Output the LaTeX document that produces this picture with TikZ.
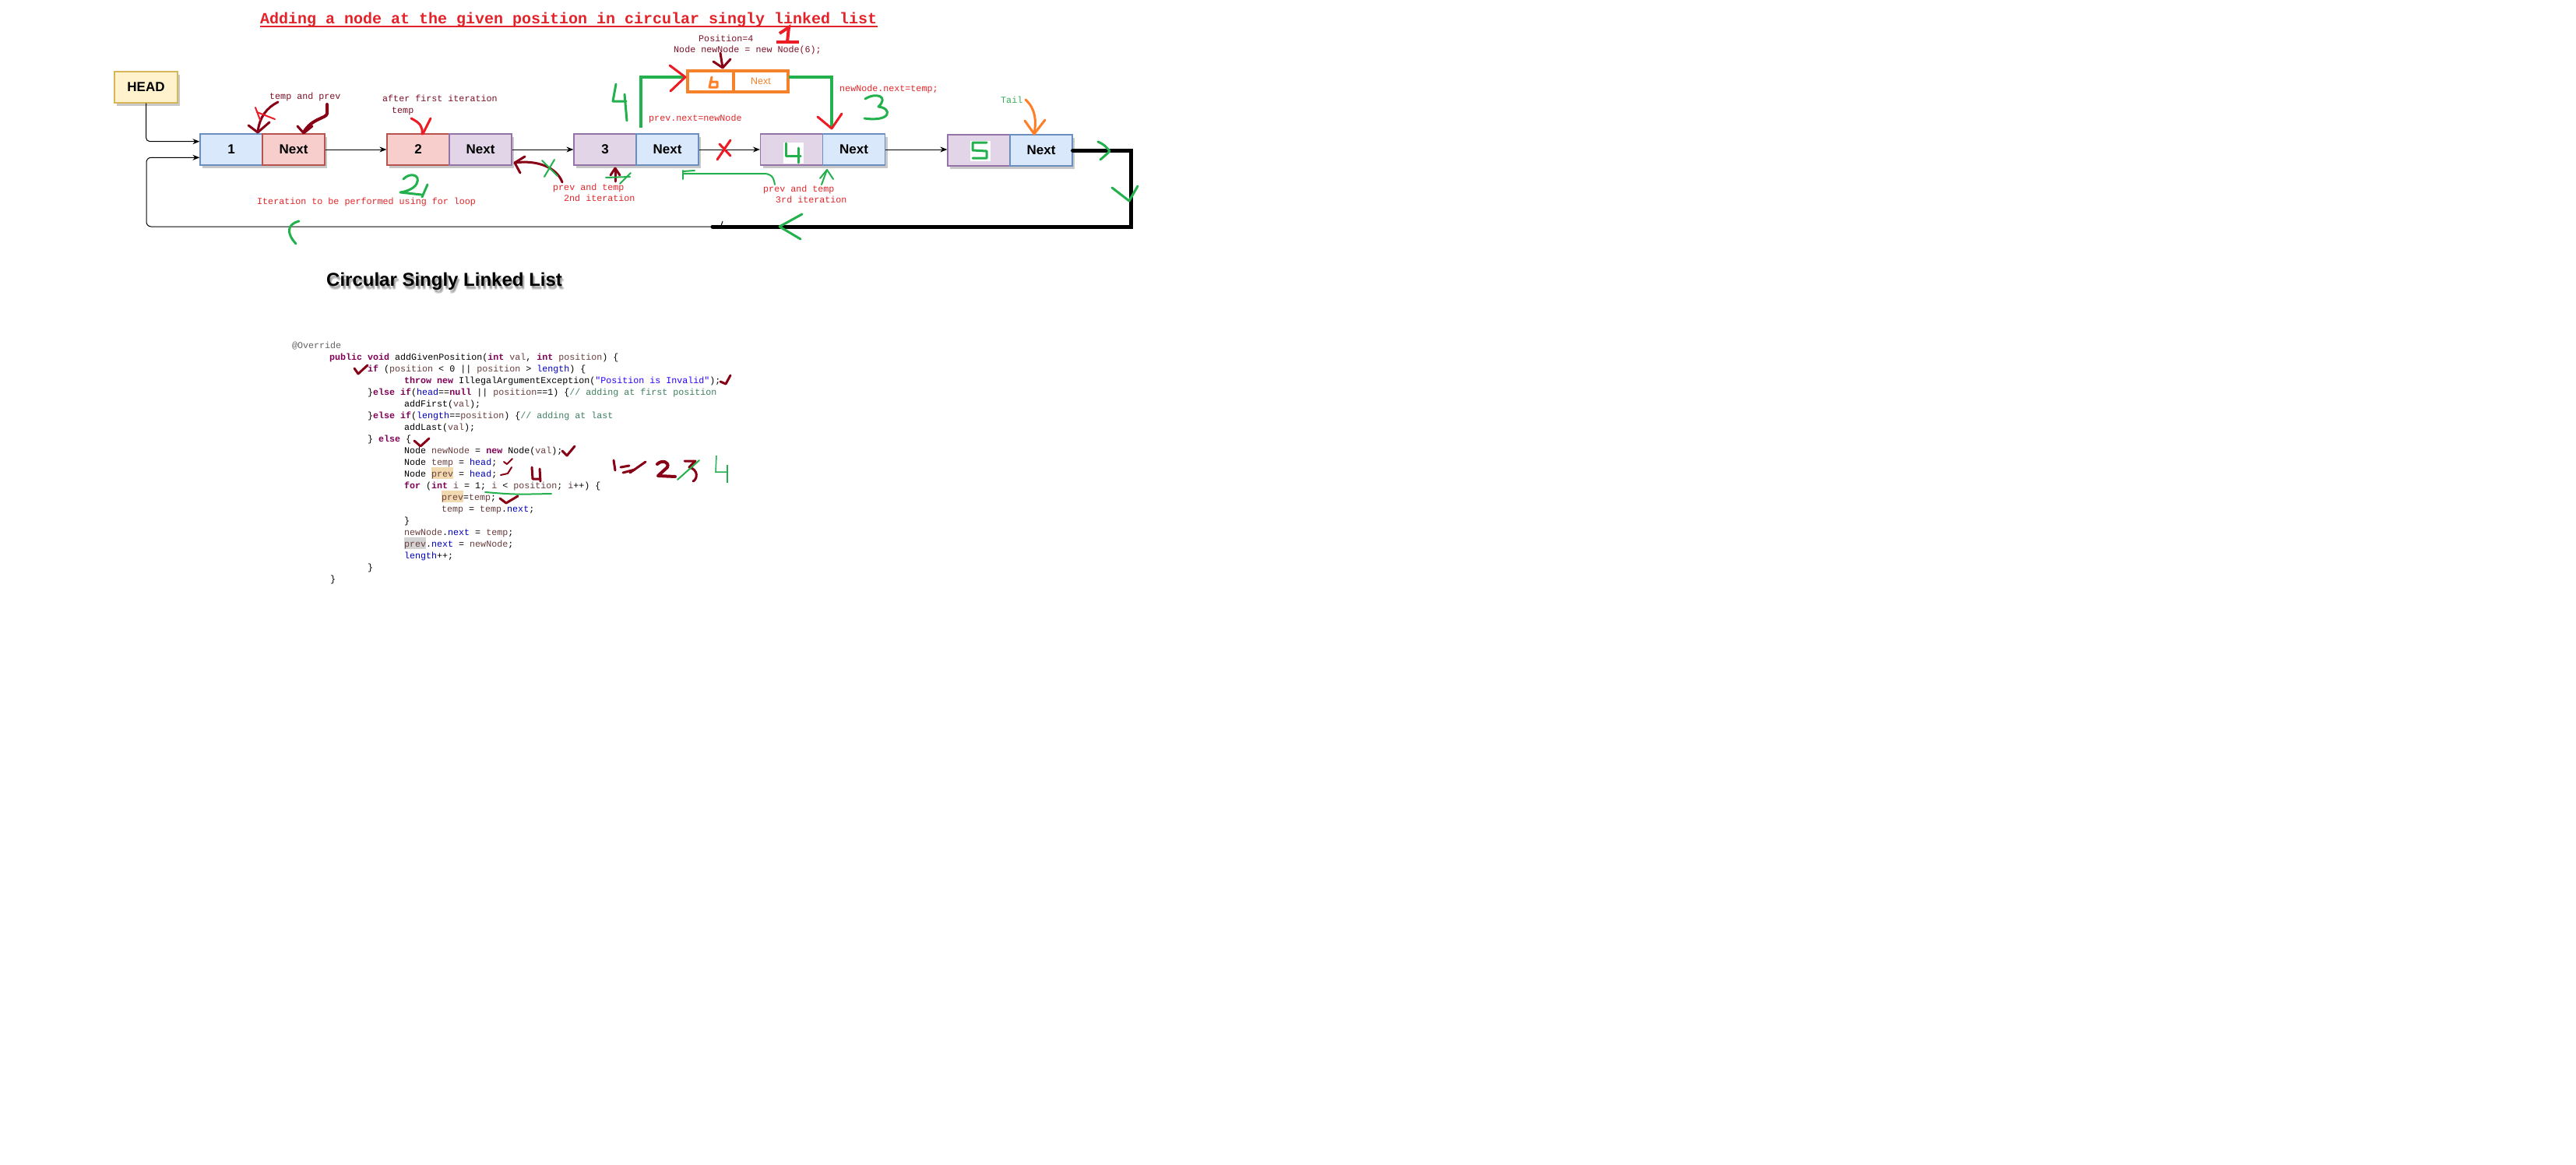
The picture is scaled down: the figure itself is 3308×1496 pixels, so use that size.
\documentclass[tikz,border=0pt]{standalone}
\usepackage{fontspec}
\setmainfont{Liberation Sans}
\setsansfont{Liberation Sans}
\setmonofont{Liberation Mono}
\usetikzlibrary{arrows.meta,shadows,calc}

% list cell colours
\definecolor{bluefill}{HTML}{DAE8FC}\definecolor{bluedraw}{HTML}{6C8EBF}
\definecolor{redfill}{HTML}{F8CECC}\definecolor{reddraw}{HTML}{B85450}
\definecolor{purfill}{HTML}{E1D5E7}\definecolor{purdraw}{HTML}{9673A6}
\definecolor{yelfill}{HTML}{FFF2CC}\definecolor{yeldraw}{HTML}{D6B656}
\definecolor{nodeorange}{HTML}{F5822A}
% pen colours
\definecolor{pgreen}{HTML}{22B14C}
\definecolor{pred}{HTML}{ED1C24}
\definecolor{pmaroon}{HTML}{880015}
\definecolor{porange}{HTML}{FF7F27}
% label colours
\definecolor{titlered}{HTML}{E3222A}
\definecolor{txtred}{HTML}{E5262A}
\definecolor{txtmaroon}{HTML}{7D1128}
\definecolor{tailgreen}{HTML}{3CAA5A}
% java syntax colours
\definecolor{jkwc}{HTML}{7F0055}
\definecolor{jfldc}{HTML}{0000C0}
\definecolor{jvarc}{HTML}{6A3E3E}
\definecolor{jstrc}{HTML}{2A00FF}
\definecolor{jcomc}{HTML}{3F7F5F}
\definecolor{jannc}{HTML}{646464}
\definecolor{hltan}{HTML}{F2DAB0}
\definecolor{hlgray}{HTML}{D4D4D4}

\newcommand\jkw[1]{\textcolor{jkwc}{\bfseries #1}}
\newcommand\jfld[1]{\textcolor{jfldc}{#1}}
\newcommand\jvar[1]{\textcolor{jvarc}{#1}}
\newcommand\jstr[1]{\textcolor{jstrc}{#1}}
\newcommand\jcom[1]{\textcolor{jcomc}{#1}}

\tikzset{
  listcell/.style={draw, line width=1.2pt, minimum width=80pt, minimum height=40pt,
    inner sep=0pt, font=\fontsize{17}{20}\selectfont\bfseries\sffamily,
    drop shadow={shadow xshift=3pt, shadow yshift=-4pt, opacity=.3, fill=black!70}},
  bluecell/.style={listcell, fill=bluefill, draw=bluedraw},
  redcell/.style={listcell, fill=redfill, draw=reddraw},
  purcell/.style={listcell, fill=purfill, draw=purdraw},
  yelcell/.style={listcell, fill=yelfill, draw=yeldraw},
  orangecell/.style={draw=nodeorange, line width=4pt, fill=white, minimum height=27pt,
    inner sep=0pt, text=nodeorange, font=\fontsize{12.5}{14}\selectfont\sffamily},
  conn/.style={draw=black, line width=1pt, -{Stealth[length=9pt,width=7pt]}},
  pen/.style={line width=3pt, line cap=round, line join=round},
  thinpen/.style={line width=2pt, line cap=round, line join=round},
  anno/.style={anchor=base west, inner sep=0pt, font=\fontsize{11.7}{14}\selectfont\ttfamily},
  code/.style={anchor=base west, inner sep=0pt, font=\fontsize{11.67}{14}\selectfont\ttfamily},
}

\begin{document}
\begin{tikzpicture}[x=1pt,y=-1pt]
\fill[white] (0,0) rectangle (3308,1496);
\useasboundingbox (0,0) rectangle (3308,1496);

% ---------- title ----------
\node[anchor=base west, inner sep=0pt, text=titlered,
      font=\fontsize{20}{24}\selectfont\ttfamily\bfseries] (title) at (334,31)
  {Adding a node at the given position in circular singly linked list};
\draw[titlered, line width=2pt] ($(title.base west)+(0,3)$) -- ($(title.base east)+(0,3)$);

% ---------- list nodes ----------
\node[yelcell, minimum width=81pt] (head) at (187.5,112) {HEAD};

\node[bluecell] (n1v) at (297,192) {1};
\node[redcell]  (n1n) at (377,192) {Next};
\node[redcell]  (n2v) at (537,192) {2};
\node[purcell]  (n2n) at (617,192) {Next};
\node[purcell]  (n3v) at (777,192) {3};
\node[bluecell] (n3n) at (857,192) {Next};
\node[purcell]  (n4v) at (1016.5,192) {};
\node[bluecell] (n4n) at (1096.5,192) {Next};
\node[purcell]  (n5v) at (1257,193) {};
\node[bluecell] (n5n) at (1337,193) {Next};

% new node being inserted
\node[orangecell, minimum width=59pt] (o6v) at (912.5,104.5) {};
\node[orangecell, minimum width=70pt] (o6n) at (977,104.5) {Next};

% ---------- links ----------
\draw[conn, rounded corners=5pt] (head.south) |- ($(n1v.north west)!0.25!(n1v.south west)$);
\draw[conn] (n1n.east) -- (n2v.west);
\draw[conn] (n2n.east) -- (n3v.west);
\draw[conn] (n3n.east) -- (n4v.west);
\draw[conn] (n4n.east) -- (n4n.east -| n5v.west);

% tail back to head
\coordinate (loopNE) at (1452,193);
\coordinate (loopSE) at (1452,291);
\coordinate (loopJ)  at (915,291);
\coordinate (loopSW) at (188,291);
\draw[line width=5pt, line cap=round] (n5n.east) -- (loopNE) -- (loopSE) -- (loopJ);
\draw[conn, rounded corners=6pt] (loopJ) -- (loopSW) |- ($(n1v.north west)!0.75!(n1v.south west)$);
\draw[line width=1pt] (928,284) -- (926,290);

% ---------- labels ----------
\node[anno, text=txtmaroon] (lbtp) at (346,127) {temp and prev};
\node[anno, text=txtmaroon] (lbaf) at (491,130) {after first iteration};
\node[anno, text=txtmaroon] (lbtm) at (503,145) {temp};
\node[anno, text=txtred] (lbit) at (330,262) {Iteration to be performed using for loop};
\node[anno, text=txtmaroon] (lbps) at (897,53) {Position=4};
\node[anno, text=txtmaroon] (lbnn) at (865,67) {Node newNode = new Node(6);};
\node[anno, text=txtred] (lbpn) at (833,155) {prev.next=newNode};
\node[anno, text=txtred] (lbnt) at (1078,117) {newNode.next=temp;};
\node[anno, text=tailgreen] (lbtl) at (1285,132) {Tail};
\node[anno, text=txtred] (lbp2) at (710,244) {prev and temp};
\node[anno, text=txtred] (lbi2) at (724,258) {2nd iteration};
\node[anno, text=txtred] (lbp3) at (980,246) {prev and temp};
\node[anno, text=txtred] (lbi3) at (996,260) {3rd iteration};

% ---------- pen marks on the list ----------
% prev.next = newNode
\draw[pgreen, line width=4.5pt] (823,164) -- (823,99) -- (879,99);
\draw[pred, pen] (860,84) -- (880,99) -- (861,117);
% newNode.next = temp
\draw[pgreen, line width=4.5pt] (1013,99) -- (1068,99) -- (1068,163);
\draw[pred, pen] (1050,150) -- (1068,165) -- (1081,146);
% step numbers
\draw[pgreen, pen] (791,108) -- (787,130) -- (804,130);
\draw[pgreen, pen] (802,121) -- (805,155);
\draw[pgreen, pen] (1111,127) .. controls (1125,118) and (1142,124) .. (1128,137)
                   .. controls (1146,139) and (1145,157) .. (1110,152);
\draw[pred, line width=4pt] (1001,43) -- (1013,35) -- (1011,54);
\draw[pred, line width=4pt] (997,54) -- (1026,54);
\draw[pgreen, pen] (518,230) .. controls (526,221) and (541,224) .. (535,236)
                   .. controls (532,242) and (522,246) .. (514,247) -- (541,250);
\draw[pgreen, pen] (549,237) -- (542,253);
% newNode pointer and value
\draw[pmaroon, pen] (925,68) -- (928,87);
\draw[pmaroon, pen] (916,79) -- (928,87) -- (938,76);
\draw[porange, pen] (914,99) -- (911,112) -- (921,112) -- (921,105) -- (912,105);
% broken link
\draw[pred, pen] (938,180) -- (921,205);
\draw[pred, pen] (924,185) -- (938,200);
% values 4 and 5
\fill[white] (1006,183) rectangle (1032,210);
\draw[pgreen, pen] (1009,184) -- (1009,200) -- (1028,200);
\draw[pgreen, pen] (1025,190) -- (1025,209);
\fill[white] (1246,181) rectangle (1272,207);
\draw[pgreen, pen] (1267,183) -- (1249,183) -- (1249,193) -- (1267,194) -- (1267,203) -- (1249,203);
% tail pointer
\draw[porange, pen] (1317,128) .. controls (1330,140) and (1331,155) .. (1328,172);
\draw[porange, pen] (1316,155) -- (1328,172) -- (1342,154);
% direction marks on the loop
\draw[pgreen, pen] (1410,182) .. controls (1418,186) .. (1425,194) .. controls (1420,199) .. (1413,205);
\draw[pgreen, pen] (1428,241) -- (1450,258) -- (1461,239);
\draw[pgreen, pen] (1030,275) -- (1001,291) -- (1028,307);
\draw[pgreen, pen] (384,284) .. controls (368,288) and (368,300) .. (380,313);
% temp and prev at node 1
\draw[pmaroon, pen] (357,131) .. controls (343,138) and (333,150) .. (331,170);
\draw[pmaroon, pen] (319,161) -- (331,170) -- (346,157);
\draw[pred, thinpen] (328,138) -- (334,154);
\draw[pred, thinpen] (330,144) -- (353,153);
\draw[pmaroon, line width=4pt, line cap=round, line join=round]
  (420,134) -- (420,146) .. controls (419,152) and (400,152) .. (390,170);
\draw[pmaroon, pen] (382,162) -- (390,171) -- (401,162);
% temp after first iteration
\draw[pred, pen] (528,152) .. controls (540,158) and (543,163) .. (542,172);
\draw[pred, pen] (553,152) -- (543,172);
% second iteration
\draw[pmaroon, pen] (722,234) .. controls (715,215) and (690,205) .. (661,209);
\draw[pmaroon, pen] (674,201) -- (661,209) -- (668,222);
\draw[pgreen, thinpen] (696,206) -- (716,226);
\draw[pgreen, thinpen] (712,205) -- (699,227);
\draw[pmaroon, pen] (790,233) -- (790,217);
\draw[pmaroon, pen] (784,225) -- (790,216) -- (796,225);
\draw[pgreen, thinpen] (778,228) -- (809,227);
\draw[pgreen, thinpen] (796,236) -- (810,222);
% third iteration
\draw[pgreen, thinpen] (995,237) .. controls (993,226) and (990,223) .. (980,223) -- (877,223);
\draw[pgreen, thinpen] (877,219) -- (877,230);
\draw[pgreen, thinpen] (877,220) -- (892,219);
\draw[pgreen, thinpen] (1055,237) -- (1062,218);
\draw[pgreen, thinpen] (1053,229) -- (1062,218) -- (1070,230);

% ---------- caption ----------
\foreach \dx/\dy in {1/2,2/3,3/4,2/5}
  \node[anchor=base west, inner sep=0pt, text=black, opacity=.12,
        font=\fontsize{24}{28}\selectfont\bfseries\sffamily] at (419+\dx,367+\dy)
    {Circular Singly Linked List};
\node[anchor=base west, inner sep=0pt, font=\fontsize{24}{28}\selectfont\bfseries\sffamily]
  (caption) at (419,367) {Circular Singly Linked List};

% ---------- code ----------
\fill[hltan] (554,600) rectangle (582,615);
\fill[hltan] (567,630) rectangle (595,645);
\fill[hlgray] (519,690) rectangle (547,705);

\node[code, text=jannc] (c01) at (375,447) {@Override};
\node[code] (c02) at (423,462) {\jkw{public} \jkw{void} addGivenPosition(\jkw{int} \jvar{val}, \jkw{int} \jvar{position}) \{};
\node[code] (c03) at (472,477) {\jkw{if} (\jvar{position} < 0 || \jvar{position} > \jfld{length}) \{};
\node[code] (c04) at (519,492) {\jkw{throw} \jkw{new} IllegalArgumentException(\jstr{"Position is Invalid"});};
\node[code] (c05) at (472,507) {\}\jkw{else} \jkw{if}(\jfld{head}==\jkw{null} || \jvar{position}==1) \{\jcom{// adding at first position}};
\node[code] (c06) at (519,522) {addFirst(\jvar{val});};
\node[code] (c07) at (472,537) {\}\jkw{else} \jkw{if}(\jfld{length}==\jvar{position}) \{\jcom{// adding at last}};
\node[code] (c08) at (519,552) {addLast(\jvar{val});};
\node[code] (c09) at (472,567) {\} \jkw{else} \{};
\node[code] (c10) at (519,582) {Node \jvar{newNode} = \jkw{new} Node(\jvar{val});};
\node[code] (c11) at (519,597) {Node \jvar{temp} = \jfld{head};};
\node[code] (c12) at (519,612) {Node \jvar{prev} = \jfld{head};};
\node[code] (c13) at (519,627) {\jkw{for} (\jkw{int} \jvar{i} = 1; \jvar{i} < \jvar{position}; \jvar{i}++) \{};
\node[code] (c14) at (567,642) {\jvar{prev}=\jvar{temp};};
\node[code] (c15) at (567,657) {\jvar{temp} = \jvar{temp}.\jfld{next};};
\node[code] (c16) at (519,672) {\}};
\node[code] (c17) at (519,687) {\jvar{newNode}.\jfld{next} = \jvar{temp};};
\node[code] (c18) at (519,702) {\jvar{prev}.\jfld{next} = \jvar{newNode};};
\node[code] (c19) at (519,717) {\jfld{length}++;};
\node[code] (c20) at (472,732) {\}};
\node[code] (c21) at (424,747) {\}};

% ---------- pen marks on the code ----------
\draw[pmaroon, pen] (455,473) -- (460,480) -- (472,469);
\draw[pmaroon, pen] (925,490) -- (932,493) -- (938,482);
\draw[pmaroon, pen] (532,566) -- (540,573) -- (551,563);
\draw[pmaroon, pen] (722,579) -- (728,585) -- (738,573);
\draw[pmaroon, thinpen] (647,593) -- (651,596) -- (658,589);
\draw[pmaroon, thinpen] (643,610) -- (652,608) -- (657,600);
\draw[pmaroon, pen] (683,600) -- (684,615) -- (693,615);
\draw[pmaroon, pen] (693,602) -- (694,618);
\draw[pgreen, thinpen] (623,632) .. controls (660,635) .. (708,634);
\draw[pmaroon, pen] (642,640) -- (650,646) -- (665,637);
% iteration count scribbles
\draw[pmaroon, pen] (788,591) -- (790,604);
\draw[pmaroon, pen] (797,600) -- (808,598);
\draw[pmaroon, pen] (800,607) -- (815,603);
\draw[pmaroon, pen] (809,607) -- (829,593);
\draw[pmaroon, line width=4pt, line cap=round, line join=round]
  (844,596) .. controls (850,590) and (860,593) .. (857,600) -- (845,611) -- (867,612);
\draw[pmaroon, pen] (879,592) -- (893,592) -- (885,600) .. controls (897,603) and (896,615) .. (890,618);
\draw[pgreen, thinpen] (870,616) -- (898,591);
\draw[pgreen, line width=1.5pt] (920,585) -- (919,606) -- (934,606);
\draw[pgreen, line width=1.5pt] (934,597) -- (934,620);

\end{tikzpicture}
\end{document}
